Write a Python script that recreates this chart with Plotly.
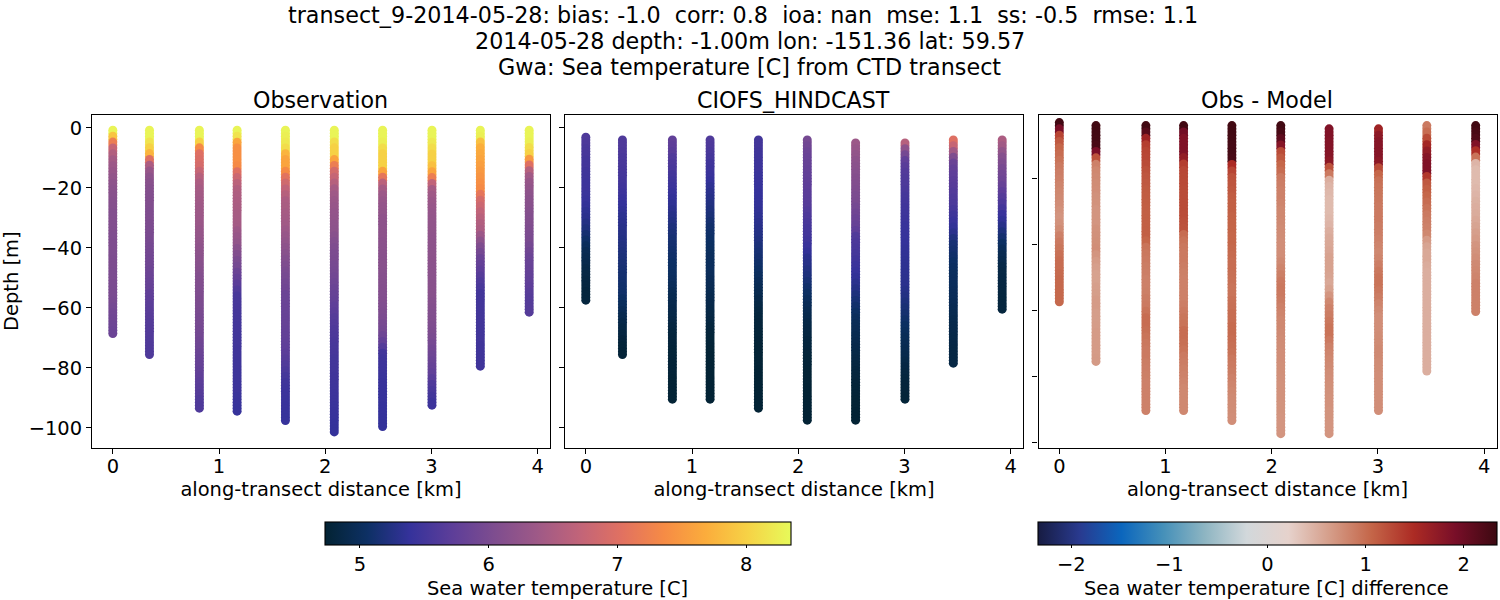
import numpy as np
import plotly.graph_objects as go

DIST_KM = [0.0, 0.345, 0.815, 1.17, 1.625, 2.085, 2.54, 3.005, 3.46, 3.92]

OBS_TOP = [-0.8] * 10
OBS_BOTTOM = [-68.5, -75.5, -93.4, -94.4, -97.5, -101.3, -99.5, -92.4, -79.4, -61.4]
MODEL_TOP = [-3.1, -4, -4, -4, -4, -4, -5, -5, -4, -4]
MODEL_BOTTOM = [-57.4, -75.5, -90.4, -90.4, -93.4, -97.4, -97.4, -90.4, -78.4, -60.4]
DIFF_TOP = MODEL_TOP
DIFF_BOTTOM = MODEL_BOTTOM

OBS_0 = [8.3,7.9,7.2,6.75,6.55,6.42,6.35,6.3,6.25,6.2,6.17,6.15,6.13,6.12,6.1,6.1,6.08,6.07,6.06,6.05,6.05,6.04,6.03,6.03,6.02,6.02,6.01,6.0,6.0,5.98,5.95,5.92,5.9,5.87,5.85]
OBS_1 = [8.3,8.3,8.15,8.0,7.75,7.0,6.5,6.3,6.2,6.15,6.12,6.1,6.08,6.07,6.05,6.05,6.03,6.02,6.0,5.98,5.96,5.94,5.92,5.9,5.87,5.85,5.82,5.8,5.75,5.73,5.71,5.69,5.67,5.65,5.64,5.63,5.62,5.61,5.6]
OBS_2 = [8.3,8.3,8.0,7.35,7.0,6.95,6.9,6.75,6.6,6.5,6.45,6.42,6.4,6.38,6.36,6.35,6.33,6.3,6.28,6.25,6.22,6.2,6.18,6.15,6.13,6.1,6.08,6.06,6.05,6.03,6.02,6.0,5.98,5.97,5.95,5.93,5.9,5.88,5.85,5.82,5.8,5.77,5.74,5.71,5.68,5.65,5.62,5.6]
OBS_3 = [8.3,8.15,7.6,7.4,7.4,7.4,7.35,7.0,6.8,6.65,6.55,6.52,6.5,6.48,6.46,6.45,6.43,6.35,6.3,6.25,6.15,6.08,6.0,5.95,5.85,5.78,5.7,5.62,5.55,5.54,5.53,5.52,5.51,5.5,5.5,5.49,5.49,5.48,5.48,5.47,5.47,5.46,5.46,5.45,5.45,5.43,5.42,5.4]
OBS_4 = [8.3,8.25,8.2,8.1,7.75,7.6,7.6,7.35,7.05,6.85,6.7,6.6,6.5,6.48,6.45,6.42,6.4,6.35,6.3,6.25,6.2,6.15,6.1,6.05,6.0,5.97,5.93,5.9,5.85,5.84,5.83,5.82,5.81,5.8,5.78,5.77,5.75,5.73,5.7,5.66,5.62,5.57,5.52,5.48,5.45,5.44,5.43,5.42,5.41,5.4]
OBS_5 = [8.3,8.3,8.1,8.0,8.0,7.6,7.2,6.9,6.75,6.6,6.45,6.38,6.33,6.3,6.27,6.25,6.22,6.2,6.15,6.1,6.05,6.02,6.0,5.97,5.95,5.92,5.88,5.84,5.8,5.77,5.73,5.7,5.66,5.63,5.6,5.58,5.56,5.54,5.53,5.51,5.5,5.49,5.48,5.47,5.46,5.45,5.44,5.43,5.42,5.41,5.39,5.38]
OBS_6 = [8.3,8.3,8.25,8.1,8.0,8.0,8.0,7.6,7.1,6.65,6.45,6.35,6.3,6.27,6.25,6.22,6.2,6.2,6.2,6.18,6.17,6.16,6.15,6.15,6.14,6.13,6.12,6.11,6.1,6.08,6.06,6.04,6.02,5.98,5.95,5.88,5.78,5.65,5.5,5.47,5.45,5.44,5.43,5.42,5.41,5.4,5.4,5.39,5.39,5.38,5.38]
OBS_7 = [8.3,8.3,8.2,8.1,8.0,8.0,7.85,7.6,7.2,6.7,6.45,6.38,6.33,6.3,6.27,6.25,6.24,6.23,6.22,6.21,6.2,6.2,6.19,6.18,6.18,6.17,6.16,6.16,6.15,6.13,6.11,6.09,6.07,6.05,6.03,6.0,5.96,5.92,5.88,5.84,5.8,5.75,5.68,5.6,5.55,5.5,5.45]
OBS_8 = [8.3,8.25,7.85,7.7,7.65,7.6,7.55,7.5,7.45,7.4,7.35,7.1,6.9,6.8,6.7,6.62,6.55,6.5,6.35,6.2,6.05,5.95,5.85,5.78,5.72,5.66,5.6,5.55,5.5,5.5,5.5,5.5,5.5,5.5,5.49,5.49,5.49,5.48,5.48,5.48,5.48]
OBS_9 = [8.3,8.3,8.25,8.1,8.0,7.5,7.0,6.6,6.4,6.3,6.25,6.2,6.17,6.15,6.12,6.1,6.08,6.05,6.02,6.0,5.95,5.9,5.85,5.82,5.8,5.77,5.75,5.72,5.68,5.66,5.65,5.65]

MODEL_0 = [5.6,5.58,5.55,5.53,5.5,5.5,5.48,5.47,5.45,5.45,5.43,5.4,5.37,5.33,5.3,5.25,5.2,5.13,5.07,5.0,4.95,4.92,4.9,4.87,4.85,4.83,4.82,4.8,4.8]
MODEL_1 = [5.6,5.6,5.58,5.56,5.55,5.53,5.52,5.5,5.48,5.45,5.42,5.38,5.35,5.32,5.3,5.28,5.26,5.24,5.22,5.2,5.18,5.16,5.14,5.12,5.11,5.09,5.08,5.04,5.0,4.96,4.92,4.88,4.85,4.82,4.79,4.77,4.76]
MODEL_2 = [5.75,5.72,5.68,5.62,5.58,5.55,5.5,5.47,5.44,5.4,5.37,5.34,5.3,5.27,5.24,5.2,5.17,5.14,5.12,5.1,5.08,5.06,5.05,5.03,5.01,4.98,4.95,4.93,4.91,4.89,4.87,4.85,4.82,4.8,4.79,4.78,4.77,4.77,4.76,4.76,4.76,4.75,4.75,4.75,4.75]
MODEL_3 = [5.6,5.58,5.55,5.52,5.48,5.45,5.42,5.38,5.34,5.3,5.27,5.23,5.2,5.17,5.13,5.1,5.08,5.06,5.04,5.02,5.01,5.0,5.0,4.98,4.96,4.95,4.93,4.91,4.89,4.87,4.85,4.83,4.8,4.78,4.77,4.76,4.75,4.74,4.74,4.74,4.74,4.74,4.74,4.74,4.74]
MODEL_4 = [5.5,5.5,5.48,5.47,5.45,5.45,5.43,5.42,5.4,5.39,5.38,5.37,5.35,5.33,5.3,5.28,5.25,5.22,5.18,5.15,5.12,5.08,5.05,5.02,4.98,4.95,4.92,4.88,4.85,4.82,4.8,4.79,4.78,4.77,4.76,4.75,4.75,4.75,4.75,4.74,4.74,4.74,4.74,4.74,4.74,4.74]
MODEL_5 = [5.95,5.9,5.85,5.82,5.8,5.78,5.76,5.74,5.72,5.7,5.68,5.66,5.62,5.58,5.55,5.52,5.5,5.47,5.42,5.37,5.3,5.27,5.23,5.2,5.15,5.1,5.05,5.0,4.96,4.93,4.9,4.87,4.85,4.83,4.81,4.8,4.78,4.77,4.76,4.75,4.75,4.75,4.74,4.74,4.74,4.74,4.74,4.74]
MODEL_6 = [6.35,6.3,6.25,6.2,6.17,6.14,6.11,6.08,6.05,6.02,6.0,5.95,5.9,5.85,5.8,5.73,5.62,5.58,5.55,5.52,5.48,5.44,5.4,5.36,5.31,5.26,5.2,5.15,5.1,5.05,5.0,4.97,4.95,4.93,4.91,4.89,4.87,4.85,4.83,4.81,4.8,4.78,4.77,4.76,4.75,4.75,4.74,4.74]
MODEL_7 = [6.6,6.2,5.95,5.75,5.68,5.63,5.6,5.58,5.55,5.52,5.5,5.48,5.46,5.44,5.42,5.41,5.4,5.38,5.36,5.35,5.34,5.33,5.32,5.31,5.3,5.27,5.24,5.2,5.16,5.12,5.08,5.04,5.0,4.97,4.95,4.92,4.9,4.87,4.84,4.82,4.8,4.79,4.78,4.77]
MODEL_8 = [7.0,6.75,6.4,6.05,5.85,5.78,5.73,5.7,5.67,5.63,5.6,5.57,5.52,5.47,5.42,5.36,5.3,5.22,5.15,5.12,5.09,5.06,5.04,5.02,5.01,5.0,4.99,4.98,4.96,4.94,4.92,4.9,4.89,4.88,4.87,4.86,4.85,4.85,4.85]
MODEL_9 = [6.5,6.4,6.25,6.12,6.05,5.98,5.92,5.87,5.8,5.72,5.65,5.58,5.5,5.42,5.35,5.28,5.2,5.12,5.05,4.98,4.93,4.9,4.87,4.85,4.84,4.83,4.82,4.81,4.8,4.8]

DIFF_0 = [2.3,1.9,1.3,1.15,1.05,1.0,0.95,0.9,0.87,0.85,0.82,0.8,0.78,0.75,0.72,0.7,0.72,0.77,0.85,0.9,0.93,0.97,1.0,1.0,1.02,1.03,1.03,1.03,1.03]
DIFF_1 = [2.3,2.3,2.28,2.25,1.9,1.2,.85,.8,.78,.76,.75,.73,.72,.7,.7,.7,.72,.73,.74,.75,.7,.65,.62,.6,.6,.62,.63,.65,.65,.63,.63,.64,.65,.65,.65,.65,.66]
DIFF_2 = [2.3,2.15,1.6,1.35,1.3,1.28,1.25,1.2,1.17,1.15,1.13,1.12,1.11,1.1,1.1,1.1,1.1,1.1,1.05,.95,.92,.9,.88,.87,.85,.85,.86,.88,.9,.95,1.0,1.0,.98,.95,.92,.9,.9,.88,.87,.86,.85,.85,.85,.85,.85]
DIFF_3 = [2.3,1.95,1.85,1.85,1.85,1.7,1.35,1.28,1.27,1.26,1.25,1.25,1.25,1.25,1.24,1.22,1.2,1.0,.95,.92,.9,.9,.88,.86,.85,.85,.85,.85,.87,.9,.93,.95,1.0,1.0,.98,.95,.9,.88,.86,.84,.82,.8,.8,.8,.8]
DIFF_4 = [2.3,2.3,2.28,2.27,2.27,2.25,1.5,1.3,1.2,1.17,1.15,1.12,1.1,1.1,1.08,1.07,1.06,1.05,1.05,1.03,1.02,1.0,1.0,.98,.97,.95,.95,.97,.98,1.0,1.0,1.02,1.02,1.0,.98,.96,.92,.9,.88,.85,.82,.8,.78,.77,.76,.75]
DIFF_5 = [2.3,2.25,2.1,1.8,1.25,1.15,1.05,1.0,.9,.87,.85,.85,.82,.8,.8,.78,.77,.76,.75,.75,.75,.78,.82,.86,.9,.92,.9,.88,.85,.82,.8,.8,.78,.77,.76,.75,.75,.74,.74,.73,.72,.72,.72,.71,.71,.7,.7,.7]
DIFF_6 = [1.85,1.85,1.83,1.82,1.8,1.75,1.2,.9,.5,.45,.42,.4,.4,.4,.42,.45,.5,.53,.55,.57,.6,.6,.6,.58,.55,.6,.7,.8,.85,.88,.92,.95,.95,.9,.85,.82,.8,.78,.76,.75,.74,.73,.72,.72,.71,.71,.7,.7]
DIFF_7 = [1.6,1.75,1.8,1.8,1.8,1.75,1.25,1.05,.97,.95,.93,.92,.9,.9,.9,.88,.87,.85,.82,.8,.82,.87,.92,.95,.95,.92,.88,.82,.78,.75,.75,.75,.76,.77,.78,.78,.77,.76,.75,.75,.75,.75,.75,.75]
DIFF_8 = [.9,1.0,1.25,1.55,1.7,1.8,1.85,1.85,1.4,1.15,1.1,1.05,1.0,.95,.9,.87,.85,.8,.65,.58,.55,.55,.52,.5,.5,.5,.5,.5,.5,.5,.5,.5,.5,.5,.5,.5,.5,.5,.5]
DIFF_9 = [2.3,2.25,2.2,1.85,1.45,.95,.45,.4,.4,.4,.42,.45,.48,.5,.52,.55,.58,.62,.65,.7,.72,.75,.78,.8,.82,.85,.85,.85,.85,.85]

OBS = [OBS_0, OBS_1, OBS_2, OBS_3, OBS_4, OBS_5, OBS_6, OBS_7, OBS_8, OBS_9]
MODEL = [MODEL_0, MODEL_1, MODEL_2, MODEL_3, MODEL_4, MODEL_5, MODEL_6, MODEL_7, MODEL_8, MODEL_9]
DIFF = [DIFF_0, DIFF_1, DIFF_2, DIFF_3, DIFF_4, DIFF_5, DIFF_6, DIFF_7, DIFF_8, DIFF_9]

TITLE_LINES = [
    "transect_9-2014-05-28: bias: -1.0  corr: 0.8  ioa: nan  mse: 1.1  ss: -0.5  rmse: 1.1",
    "2014-05-28 depth: -1.00m lon: -151.36 lat: 59.57",
    "Gwa: Sea temperature [C] from CTD transect",
]
PANEL_TITLES = ["Observation", "CIOFS_HINDCAST", "Obs - Model"]
CBAR_TITLES = ["Sea water temperature [C]", "Sea water temperature [C] difference"]

W, H = 1500, 600
PANELS = [(92, 550), (565, 1023), (1038.5, 1496.5)]
TITLE_CX = [320, 793.5, 1267]
CBAR_CX = [557.5, 1266.5]
TOP, BOTTOM = 115, 447.5
FONT = "DejaVu Sans"
TICK, LABEL, SUB, MAIN = 19.44, 19.44, 22.2, 22.25


def flatten(tops, bottoms, vals):
    # each reading covers a 2 m depth bin, drawn with two overlapping markers
    xs, ys, cs = [], [], []
    for x, t, b, v in zip(DIST_KM, tops, bottoms, vals):
        n = 2 * len(v)
        xs += [x] * n
        ys += list(np.linspace(t, b, n))
        cs += list(np.repeat(v, 2))
    return xs, ys, cs


fig = go.Figure()
sets = [(OBS_TOP, OBS_BOTTOM, OBS, "coloraxis"),
        (MODEL_TOP, MODEL_BOTTOM, MODEL, "coloraxis"),
        (DIFF_TOP, DIFF_BOTTOM, DIFF, "coloraxis2")]
for i, (t, b, v, ca) in enumerate(sets):
    xs, ys, cs = flatten(t, b, v)
    fig.add_trace(go.Scatter(
        x=xs, y=ys, mode="markers", xaxis=f"x{i+1}", yaxis=f"y{i+1}", showlegend=False,
        marker=dict(size=9, color=cs, coloraxis=ca, line=dict(width=0)),
    ))

axis_common = dict(showgrid=False, zeroline=False, showline=True, mirror=True, linecolor="black",
                   linewidth=1.1, ticks="outside", ticklen=5, tickwidth=1.1, tickcolor="black",
                   tickfont=dict(family=FONT, size=TICK, color="black"))
cbar_common = dict(orientation="h", lenmode="pixels", thicknessmode="pixels", thickness=23,
                   xanchor="center", xref="paper", y=1 - 522.3 / H, yanchor="top", yref="paper",
                   xpad=0, ypad=0, outlinewidth=1.1, outlinecolor="black", ticks="outside", ticklen=3,
                   tickwidth=1.1, tickcolor="black", tickfont=dict(family=FONT, size=TICK, color="black"))
yranges = [[-106.5, 4.3], [-106.5, 4.3], [-101.6, -0.8]]
layout = dict(
    width=W, height=H, margin=dict(l=0, r=0, t=0, b=0, autoexpand=False),
    paper_bgcolor="white", plot_bgcolor="white", font=dict(family=FONT, color="black"),
    showlegend=False,
    coloraxis=dict(colorscale="thermal", cmin=4.728, cmax=8.347,
                   colorbar=dict(len=465.5, x=557.8 / W, tickvals=[5, 6, 7, 8], **cbar_common)),
    coloraxis2=dict(colorscale="balance", cmin=-2.339, cmax=2.339,
                    colorbar=dict(len=458.5, x=1267.5 / W, tickvals=[-2, -1, 0, 1, 2], **cbar_common)),
    annotations=[],
)
for i, (x0, x1) in enumerate(PANELS):
    s = "" if i == 0 else str(i + 1)
    layout[f"xaxis{s}"] = dict(
        domain=[x0 / W, x1 / W], range=[-0.196, 4.116], anchor=f"y{i+1}", tickvals=[0, 1, 2, 3, 4],
        ticklabelstandoff=-4,
        title=dict(text="along-transect distance [km]", font=dict(family=FONT, size=LABEL, color="black"), standoff=5),
        **axis_common)
    yd = dict(domain=[1 - BOTTOM / H, 1 - TOP / H], range=yranges[i], anchor=f"x{i+1}",
              tickvals=[0, -20, -40, -60, -80, -100], showticklabels=(i == 0), **axis_common)
    if i == 0:
        yd["title"] = dict(text="Depth [m]", font=dict(family=FONT, size=LABEL, color="black"), standoff=8)
    layout[f"yaxis{s}"] = yd
    layout["annotations"].append(dict(
        text=PANEL_TITLES[i], x=TITLE_CX[i] / W, y=1 - 100 / H, xref="paper", yref="paper",
        xanchor="center", yanchor="middle", showarrow=False, font=dict(family=FONT, size=SUB, color="black")))
for line, cx, py in zip(TITLE_LINES, [743, 749.5, 749.5], [15, 41, 67]):
    layout["annotations"].append(dict(
        text=line, x=cx / W, y=1 - py / H, xref="paper", yref="paper", xanchor="center", yanchor="middle",
        showarrow=False, font=dict(family=FONT, size=MAIN, color="black")))
for text, cx in zip(CBAR_TITLES, CBAR_CX):
    layout["annotations"].append(dict(
        text=text, x=cx / W, y=1 - 588 / H, xref="paper", yref="paper", xanchor="center", yanchor="middle",
        showarrow=False, font=dict(family=FONT, size=LABEL, color="black")))
fig.update_layout(**layout)
fig.write_html("out.html", config=dict(displayModeBar=False),
               post_script="document.body.style.margin='0';document.body.style.overflow='hidden';")
